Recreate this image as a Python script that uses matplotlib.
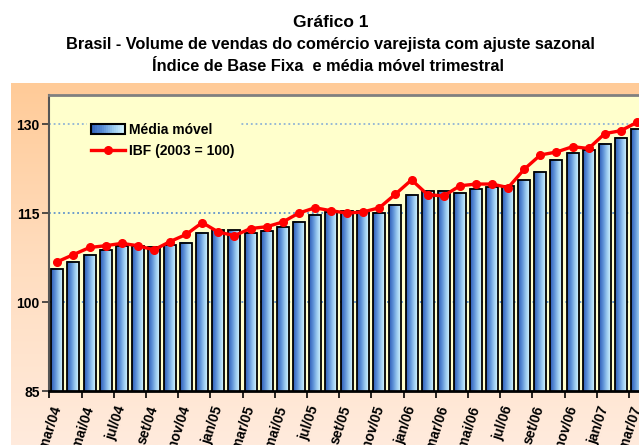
import numpy as np
import matplotlib
matplotlib.use('Agg')
import matplotlib.pyplot as plt
from matplotlib.colors import LinearSegmentedColormap
from matplotlib.legend_handler import HandlerBase
from matplotlib.patches import Rectangle
from matplotlib.lines import Line2D

plt.rcParams['font.family'] = ['Liberation Sans', 'DejaVu Sans']
plt.rcParams['font.weight'] = 'bold'

categories = ['mar/04', 'abr/04', 'mai/04', 'jun/04', 'jul/04', 'ago/04', 'set/04', 'out/04',
              'nov/04', 'dez/04', 'jan/05', 'fev/05', 'mar/05', 'abr/05', 'mai/05', 'jun/05',
              'jul/05', 'ago/05', 'set/05', 'out/05', 'nov/05', 'dez/05', 'jan/06', 'fev/06',
              'mar/06', 'abr/06', 'mai/06', 'jun/06', 'jul/06', 'ago/06', 'set/06', 'out/06',
              'nov/06', 'dez/06', 'jan/07', 'fev/07', 'mar/07']

media_movel = [105.6, 106.8, 108.0, 108.8, 109.5, 109.4, 109.3, 109.6, 110.0, 111.7,
               112.1, 112.1, 111.7, 112.0, 112.7, 113.5, 114.7, 115.2, 115.3, 115.3,
               115.1, 116.4, 118.1, 118.8, 118.8, 118.4, 119.1, 119.4, 119.6, 120.5,
               122.0, 124.0, 125.2, 125.7, 126.7, 127.7, 129.1]

ibf = [106.8, 108.0, 109.2, 109.5, 109.9, 109.5, 108.8, 110.2, 111.4, 113.4,
       111.8, 111.2, 112.4, 112.7, 113.5, 115.0, 115.9, 115.4, 115.0, 115.2,
       115.9, 118.2, 120.6, 118.1, 117.9, 119.6, 119.9, 119.9, 119.3, 122.4,
       124.8, 125.3, 126.2, 125.9, 128.4, 128.9, 130.3]

yticks = [85, 100, 115, 130]
label_media = 'Média móvel'
label_ibf = 'IBF (2003 = 100)'
title1 = 'Gráfico 1'
title2 = 'Brasil - Volume de vendas do comércio varejista com ajuste sazonal'
title3 = 'Índice de Base Fixa  e média móvel trimestral'

W, H = 639, 445
fig = plt.figure(figsize=(W / 100, H / 100), dpi=100)
fig.patch.set_facecolor('white')

bar_cmap = LinearSegmentedColormap.from_list(
    'barg', ['#2D5CB6', '#5A8ED6', '#9ACAF0', '#D4F4FF'])

# chart area background (orange gradient)
bg = fig.add_axes([11 / W, 0, 1 - 11 / W, (H - 83) / H])
bg.set_axis_off()
grad = np.linspace(0, 1, 256).reshape(-1, 1)
bg_cmap = LinearSegmentedColormap.from_list('bgg', ['#FFCB98', '#FFDDBF', '#FFEBDD'])
bg.imshow(grad, aspect='auto', cmap=bg_cmap, extent=(0, 1, 0, 1), origin='upper')
bg.set_xlim(0, 1)
bg.set_ylim(0, 1)

# plot area
left_px, right_px, top_px, bot_px = 49.3, 645.0, 94.5, 391.0
ax = fig.add_axes([left_px / W, 1 - bot_px / H, (right_px - left_px) / W, (bot_px - top_px) / H])
ax.set_facecolor('#FFFFCC')

x = np.arange(len(categories))
ax.axhline(yticks[1], color='#5F93CC', lw=1.3, ls=(0, (1, 1.6)), zorder=1)
ax.axhline(yticks[2], color='#5F93CC', lw=1.3, ls=(0, (1, 1.6)), zorder=1)
ax.axhline(yticks[3], color='#8FB3D6', lw=1.3, ls=(0, (1, 1.6)), zorder=1)

bars = ax.bar(x, media_movel, width=0.74, facecolor='none', edgecolor='black',
              linewidth=1.3, zorder=3)
hgrad = np.linspace(0, 1, 64).reshape(1, -1)
for b in bars:
    ax.imshow(hgrad, cmap=bar_cmap, aspect='auto', zorder=2,
              extent=(b.get_x(), b.get_x() + b.get_width(), 0, b.get_height()))

ax.plot(x, ibf, color='#FF0000', lw=2.4, marker='o', markersize=5.5, zorder=4,
        solid_joinstyle='round')

ax.set_xlim(-0.5, len(categories) - 0.5)
ax.set_ylim(85, 135)
ax.set_yticks(yticks)
ax.set_yticklabels([str(v) for v in yticks], fontsize=10, fontweight='bold')
ax.tick_params(axis='y', length=5, width=1.2, pad=2, color='#333333')

ax.set_xticks(np.arange(-0.5, len(categories), 2))
ax.set_xticklabels([])
ax.tick_params(axis='x', which='major', length=5, width=1.2, direction='out')
ax.set_xticks(x[::2], minor=True)
ax.set_xticklabels(categories[::2], minor=True, fontsize=10, fontweight='bold',
                   rotation=72, ha='right', va='center', rotation_mode='anchor')
ax.tick_params(axis='x', which='minor', length=0, pad=11)

ax.spines['top'].set_color('#808080')
ax.spines['top'].set_linewidth(2)
ax.spines['left'].set_color('#555555')
ax.spines['left'].set_linewidth(1.5)
ax.spines['bottom'].set_color('black')
ax.spines['bottom'].set_linewidth(2)
ax.spines['right'].set_visible(False)


class GradHandler(HandlerBase):
    def create_artists(self, legend, orig, xdescent, ydescent, width, height, fontsize, trans):
        arts = []
        n = 16
        x0, y0 = -xdescent, -ydescent
        for k in range(n):
            arts.append(Rectangle((x0 + width * k / n, y0), width / n + 0.3, height,
                                  facecolor=bar_cmap((k + 0.5) / n), edgecolor='none',
                                  transform=trans))
        arts.append(Rectangle((x0, y0), width, height, facecolor='none',
                              edgecolor='black', lw=1.5, transform=trans))
        return arts


h_bar = Rectangle((0, 0), 1, 1)
h_line = Line2D([], [], color='#FF0000', lw=2.4, marker='o', markersize=5.5)
leg = ax.legend([h_bar, h_line], [label_media, label_ibf],
                handler_map={Rectangle: GradHandler()},
                loc='upper left', bbox_to_anchor=(87 / W, 1 - 119 / H),
                bbox_transform=fig.transFigure, borderaxespad=0,
                prop={'size': 10, 'weight': 'bold'}, frameon=True,
                facecolor='#FFFFCC', edgecolor='none', framealpha=1, fancybox=False,
                handlelength=2.4, handleheight=0.75, handletextpad=0.35,
                labelspacing=0.5, borderpad=0.3)
leg.set_zorder(10)

fig.text(330.5 / W, 1 - 22.7 / H, title1, ha='center', va='center', fontsize=12.5, fontweight='bold')
fig.text(330.3 / W, 1 - 44.3 / H, title2, ha='center', va='center', fontsize=11.8, fontweight='bold')
fig.text(327.5 / W, 1 - 66.7 / H, title3, ha='center', va='center', fontsize=11.8, fontweight='bold')

fig.savefig('out.png', dpi=100)
